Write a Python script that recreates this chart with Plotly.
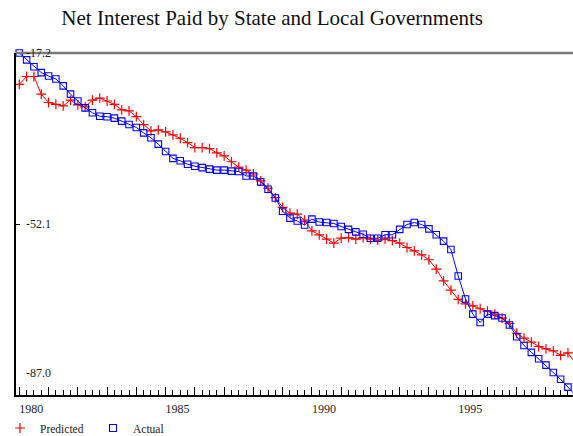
import plotly.graph_objects as go

# ---- data (quarterly, 1980Q1 .. 1999Q1) ----
start_year = 1980
n_quarters = 77

actual = [
    -17.2, -18.6, -20.0, -21.2, -21.9, -22.5, -23.9, -25.6, -27.0, -28.4,
    -29.4, -30.1, -30.2, -30.5, -31.1, -31.8, -32.4, -33.5, -34.5, -35.8,
    -37.3, -38.7, -39.2, -39.9, -40.3, -40.6, -40.9, -41.1, -41.1, -41.3,
    -41.4, -42.3, -42.3, -43.5, -45.0, -46.8, -49.5, -50.9, -51.5, -52.3,
    -51.1, -51.7, -51.8, -52.0, -52.6, -53.2, -53.7, -54.2, -55.0, -55.0,
    -54.3, -54.3, -53.2, -52.2, -51.8, -52.2, -53.1, -54.3, -55.6, -57.3,
    -62.7, -67.4, -70.5, -72.2, -70.5, -70.8, -71.3, -72.7, -75.1, -76.9,
    -78.3, -79.6, -80.9, -82.4, -83.8, -85.4, -87.0,
]

predicted = [
    -23.6, -22.0, -22.0, -25.6, -27.3, -27.7, -28.0, -26.8, -27.8, -28.2,
    -26.8, -26.4, -27.0, -27.7, -28.8, -29.0, -30.2, -31.8, -33.1, -32.9,
    -33.3, -33.9, -34.6, -35.5, -36.5, -36.5, -36.7, -37.6, -38.2, -39.4,
    -40.5, -41.1, -41.9, -43.3, -44.8, -46.7, -48.7, -49.9, -50.1, -51.3,
    -53.5, -54.3, -55.2, -56.0, -55.0, -54.9, -55.2, -54.9, -55.2, -55.4,
    -55.2, -55.5, -56.0, -56.9, -57.6, -58.4, -59.4, -61.3, -63.7, -65.6,
    -67.5, -68.4, -68.8, -69.4, -69.9, -70.5, -71.3, -72.4, -74.4, -75.4,
    -76.2, -77.1, -77.6, -78.0, -78.9, -78.4, -80.5,
]

y_labels = [-17.2, -52.1, -87.0]
year_ticks = list(range(1980, 2000))
year_labels = [str(y) if y % 5 == 0 else "" for y in year_ticks]

title_text = "Net Interest Paid by State and Local Governments"

# decimal-year position of each quarter
x = [start_year + i / 4 for i in range(n_quarters)]

SERIF = "Liberation Serif"
RED = "#ff0000"
BLUE = "#0000ff"

fig = go.Figure()

fig.add_trace(go.Scatter(
    x=x, y=predicted, mode="lines+markers", name="Predicted",
    line=dict(color=RED, width=1),
    marker=dict(symbol="cross-thin", size=7, color=RED,
                line=dict(color=RED, width=1.2)),
    cliponaxis=False, showlegend=False,
))
fig.add_trace(go.Scatter(
    x=x, y=actual, mode="lines+markers", name="Actual",
    line=dict(color=BLUE, width=1),
    marker=dict(symbol="square-open", size=6.5, color=BLUE,
                line=dict(color=BLUE, width=1.1)),
    cliponaxis=False, showlegend=False,
))

# legend-only entries (marker only, like the reference)
fig.add_trace(go.Scatter(
    x=[None], y=[None], mode="markers", name="Predicted",
    marker=dict(symbol="cross-thin", size=7, color=RED,
                line=dict(color=RED, width=1.2)),
))
fig.add_trace(go.Scatter(
    x=[None], y=[None], mode="markers", name="Actual",
    marker=dict(symbol="square-open", size=7, color=BLUE,
                line=dict(color=BLUE, width=1.1)),
))

# gray top border
fig.add_shape(type="line", xref="paper", x0=0, x1=1, yref="paper",
              y0=1, y1=1, line=dict(color="#7a7a7a", width=2.5))

# y value labels drawn inside the plot
for v in y_labels:
    fig.add_annotation(
        xref="paper", x=0, xanchor="left", xshift=8,
        yref="y", y=v, yanchor="middle",
        yshift=22 if v == min(y_labels) else 0,
        text=f"{v:.1f}", showarrow=False,
        font=dict(family=SERIF, size=12, color="#222"),
    )

fig.update_layout(
    width=573, height=436,
    margin=dict(l=16, r=0, t=53, b=41, autoexpand=False),
    paper_bgcolor="white", plot_bgcolor="white",
    title=dict(text=title_text, x=0.475, xref="container", xanchor="center",
               y=1 - 18 / 436, yref="container", yanchor="middle",
               font=dict(family=SERIF, size=21, color="#111")),
    font=dict(family=SERIF, size=12, color="#222"),
    showlegend=True,
    legend=dict(orientation="h", xref="container", x=0, xanchor="left",
                yref="container", y=8 / 436, yanchor="middle",
                font=dict(family=SERIF, size=11.5, color="#222"),
                itemwidth=30, entrywidth=48, bgcolor="rgba(0,0,0,0)",
                tracegroupgap=0),
)

fig.update_xaxes(
    range=[1979.887, 1998.923],
    showgrid=False, zeroline=False,
    showline=True, linecolor="black", linewidth=1.5,
    tickmode="array", tickvals=year_ticks, ticktext=year_labels,
    ticks="inside", ticklen=8, tickwidth=1, tickcolor="black",
    ticklabelshift=12, ticklabelstandoff=2,
    minor=dict(dtick=0.25, tick0=1980, ticks="inside", ticklen=5,
               tickwidth=1, tickcolor="black", showgrid=False),
    tickfont=dict(family=SERIF, size=12, color="#222"),
)
fig.update_yaxes(
    range=[min(y_labels), max(y_labels)],
    showgrid=False, zeroline=False,
    showline=True, linecolor="black", linewidth=1.5,
    tickmode="array", tickvals=[y_labels[1]],
    ticks="inside", ticklen=4, tickcolor="black",
    showticklabels=False,
)

fig.write_html(
    "out.html",
    config={"displayModeBar": False},
    post_script="document.body.style.margin='0';document.body.style.overflow='hidden';",
)
